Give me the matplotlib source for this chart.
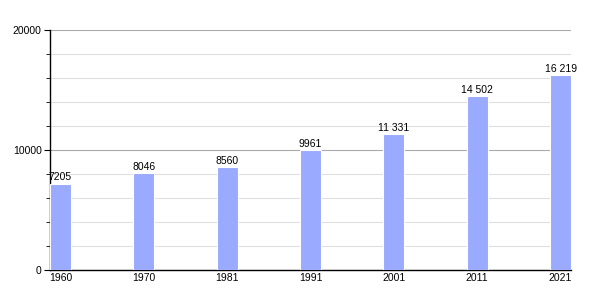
import matplotlib.pyplot as plt
import numpy as np
from matplotlib.ticker import MultipleLocator

plt.rcParams['font.family'] = ['Liberation Sans', 'DejaVu Sans']

years = ["1960", "1970", "1981", "1991", "2001", "2011", "2021"]
population = [7205, 8046, 8560, 9961, 11331, 14502, 16219]
labels = ["7205", "8046", "8560", "9961", "11 331", "14 502", "16 219"]

fig = plt.figure(figsize=(6, 3), dpi=100)
ax = fig.add_axes([50/600, 30/300, 521/600, 240/300])

x = np.arange(len(years))
bars = ax.bar(x, population, width=0.25, color="#99aaff", edgecolor="white",
              linewidth=0.8, zorder=3)

for xi, v, lab in zip(x, population, labels):
    ax.text(xi, v + 120, lab, ha="center", va="bottom", fontsize=7.5, zorder=4)

ax.set_xlim(-0.125, len(years) - 1 + 0.125)
ax.set_ylim(0, 20000)
ax.set_xticks(x)
ax.set_xticklabels(years)
ax.yaxis.set_major_locator(MultipleLocator(10000))
ax.yaxis.set_minor_locator(MultipleLocator(2000))

ax.grid(axis="y", which="major", color="#aaaaaa", linewidth=0.8, zorder=1)
ax.grid(axis="y", which="minor", color="#e0e0e0", linewidth=0.8, zorder=1)

for s in ["top", "right"]:
    ax.spines[s].set_visible(False)
ax.spines["left"].set_linewidth(1)
ax.spines["bottom"].set_linewidth(1)

ax.tick_params(axis="x", length=0, pad=2, labelsize=7.5)
ax.tick_params(axis="y", which="major", length=4, pad=2, labelsize=7.5)
ax.tick_params(axis="y", which="minor", length=3)

fig.savefig("out.png", dpi=100)
